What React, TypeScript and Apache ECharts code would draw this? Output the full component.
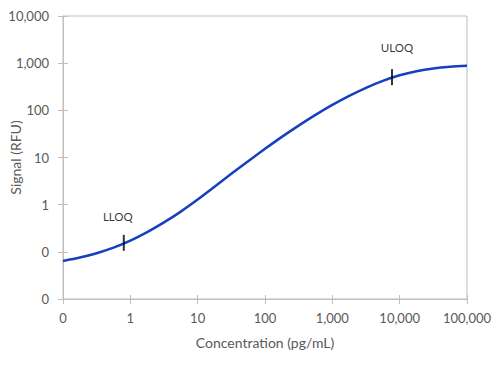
import React, { useEffect, useRef } from "react";
import * as echarts from "echarts";

const concentration = [0.1, 0.178, 0.316, 0.562, 1, 1.78, 3.16, 5.62, 10, 17.8, 31.6, 56.2, 100, 178, 316, 562, 1000, 1780, 3160, 5620, 10000, 17800, 31600, 56200, 100000];
const signal = [0.064, 0.0755, 0.0933, 0.1225, 0.173, 0.262, 0.42, 0.713, 1.28, 2.39, 4.5, 8.37, 15.3, 27.4, 47.5, 80, 130, 202, 300, 422, 553, 673, 769, 836, 879];
const limitNames = ["LLOQ", "ULOQ"];
const limitConc = [0.8, 7700];
const limitSignal = [0.155, 505];

const xTitle = "Concentration (pg/mL)";
const yTitle = "Signal (RFU)";

const fmt = (v: number) => Math.round(v).toLocaleString("en-US");
const FONT = "Lato, 'Open Sans', sans-serif";
const GRAY = "#BFBFBF";
const LABEL = "#595959";

export default function App() {
  const ref = useRef<HTMLDivElement>(null);
  useEffect(() => {
    if (!ref.current) return;
    const chart = echarts.init(ref.current, undefined, { renderer: "svg" });
    const baseX = {
      type: "log" as const,
      logBase: 10,
      min: 0.1,
      max: 100000,
      splitLine: { show: false },
    };
    const baseY = {
      type: "log" as const,
      logBase: 10,
      min: 0.01,
      max: 10000,
      splitLine: { show: false },
    };
    chart.setOption({
      animation: false,
      textStyle: { fontFamily: FONT },
      grid: {
        left: 63,
        right: 33,
        top: 16,
        bottom: 69,
        containLabel: false,
        outerBoundsMode: "none",
        show: true,
        borderColor: GRAY,
        borderWidth: 1,
      },
      xAxis: [
        {
          ...baseX,
          name: xTitle,
          nameLocation: "middle",
          nameGap: 36,
          nameMoveOverlap: false,
          nameTextStyle: { color: LABEL, fontSize: 14, fontFamily: FONT },
          axisLine: { lineStyle: { color: GRAY, width: 1 } },
          axisTick: { show: true, length: 5, lineStyle: { color: GRAY } },
          axisLabel: { color: LABEL, fontSize: 13, margin: 12, formatter: fmt, fontFamily: FONT },
        },
        {
          ...baseX,
          position: "bottom",
          axisLine: { show: false },
          axisTick: { show: true, inside: true, length: 4, lineStyle: { color: GRAY } },
          axisLabel: { show: false },
        },
      ],
      yAxis: [
        {
          ...baseY,
          name: yTitle,
          nameLocation: "middle",
          nameGap: 41,
          nameMoveOverlap: false,
          nameTextStyle: { color: LABEL, fontSize: 14, fontFamily: FONT },
          axisLine: { show: true, lineStyle: { color: GRAY, width: 1 } },
          axisTick: { show: true, length: 5, lineStyle: { color: GRAY } },
          axisLabel: { color: LABEL, fontSize: 13, margin: 14, formatter: fmt, fontFamily: FONT },
        },
        {
          ...baseY,
          position: "left",
          axisLine: { show: false },
          axisTick: { show: true, inside: true, length: 5, lineStyle: { color: GRAY } },
          axisLabel: { show: false },
        },
      ],
      series: [
        {
          type: "line",
          xAxisIndex: 0,
          yAxisIndex: 0,
          data: concentration.map((c, i) => [c, signal[i]]),
          smooth: 0.3,
          showSymbol: false,
          lineStyle: { color: "#1740C0", width: 2.5 },
        },
        {
          type: "scatter",
          xAxisIndex: 0,
          yAxisIndex: 0,
          symbol: "rect",
          symbolSize: [2, 16],
          itemStyle: { color: "#000000" },
          data: limitNames.map((n, i) => ({
            name: n,
            value: [limitConc[i], limitSignal[i]],
            label: {
              show: true,
              position: "top",
              distance: 0,
              offset: i === 0 ? [-6, -12] : [5, -16],
              formatter: n,
              color: "#000000",
              fontSize: 11.5,
              fontFamily: FONT,
            },
          })),
          z: 5,
        },
      ],
    });
    return () => chart.dispose();
  }, []);
  return (
    <div
      ref={ref}
      style={{ position: "absolute", left: 0, top: 0, width: 500, height: 368 }}
    />
  );
}
